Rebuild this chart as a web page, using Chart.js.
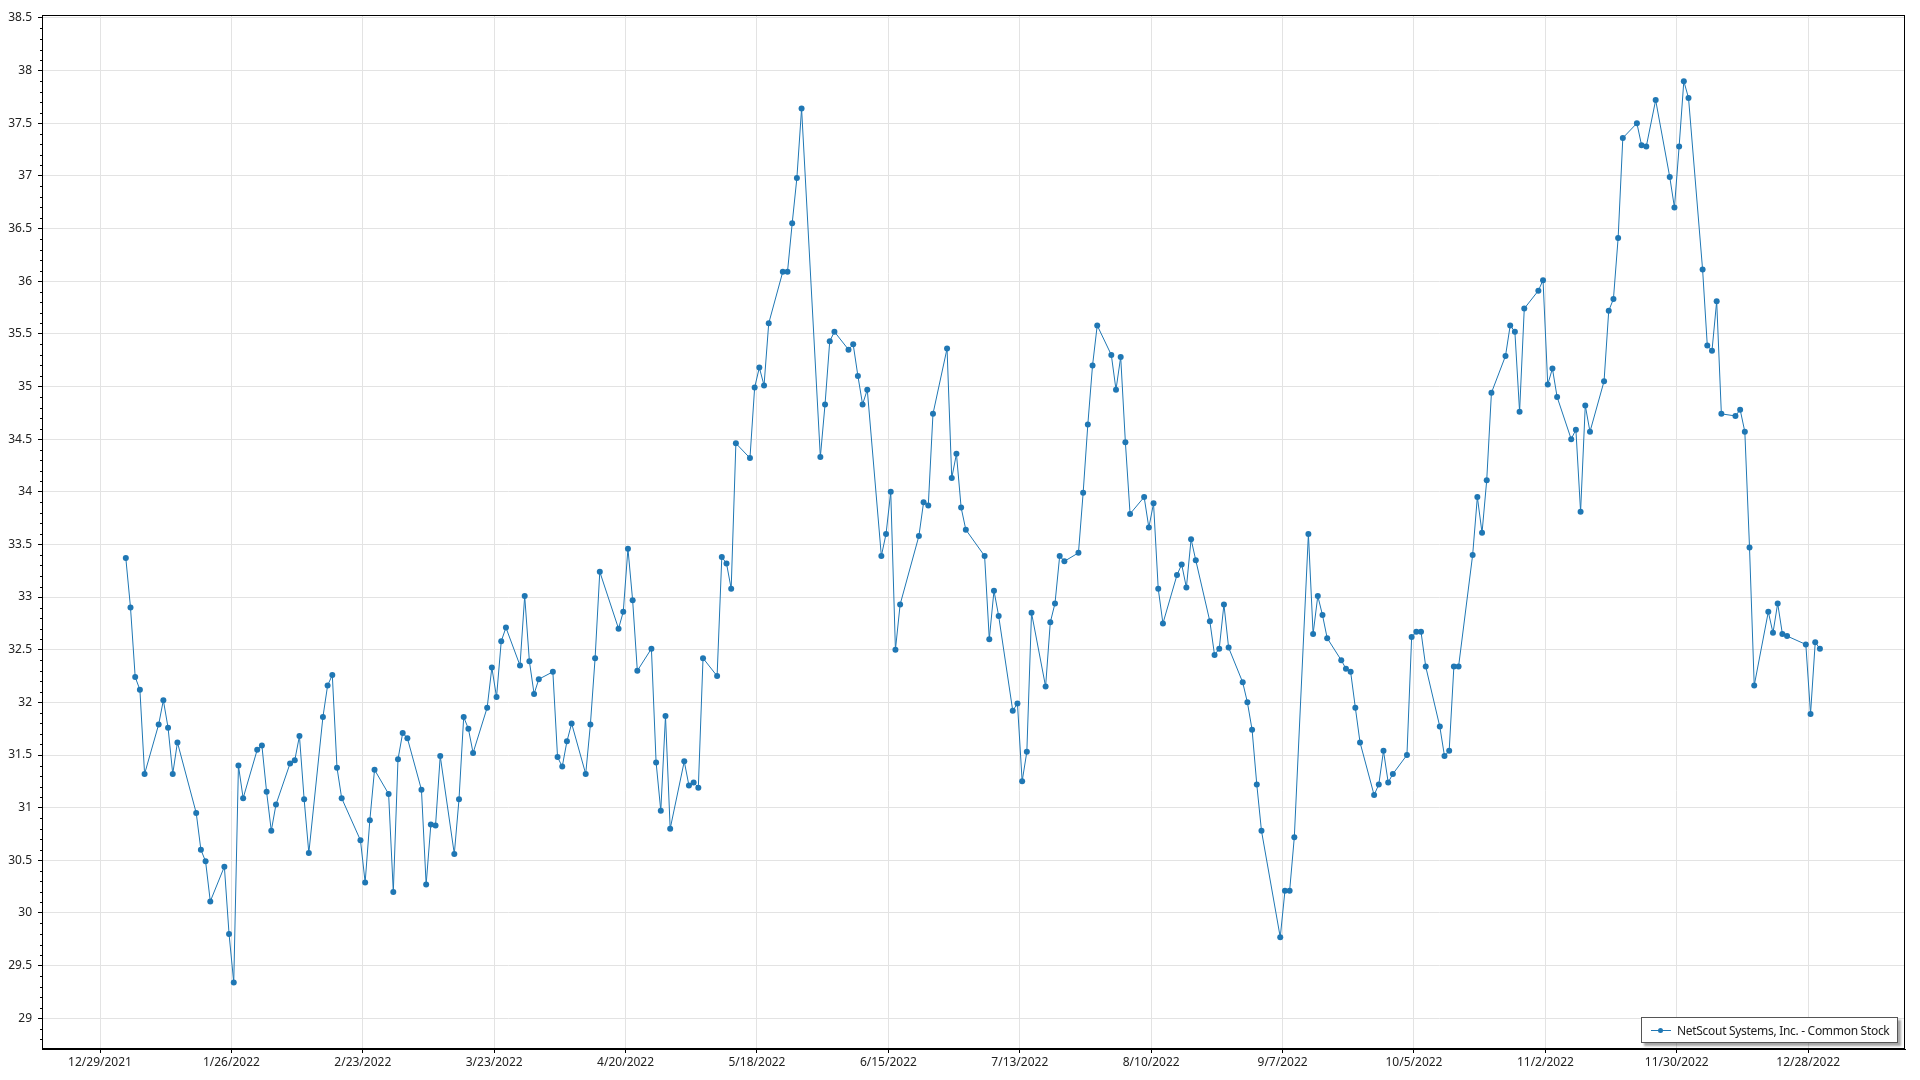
<!DOCTYPE html>
<html>
<head>
<meta charset="utf-8">
<title>NetScout Systems, Inc. - Common Stock</title>
<script src="https://cdn.jsdelivr.net/npm/chart.js@4.4.0/dist/chart.umd.min.js"></script>
<style>
  html, body { margin: 0; padding: 0; background: #fff; }
  #wrap { position: relative; width: 1920px; height: 1080px; }
  #legend {
    position: absolute; left: 1641px; top: 1017px; width: 257px; height: 26px;
    border: 1px solid #555; background: #fff; box-shadow: 3px 3px 2px rgba(0,0,0,0.35);
    font: 12px "Noto Sans", sans-serif; color: #222; letter-spacing: -0.3px;
    display: flex; align-items: center; white-space: nowrap; box-sizing: border-box;
  }
  #legend .swatch { position: relative; width: 20px; height: 1px; background: #1f77b4; margin: 0 6px 0 9px; flex: none; }
  #legend .swatch::after {
    content: ''; position: absolute; left: 7px; top: -2px; width: 5px; height: 5px;
    border-radius: 50%; background: #1f77b4;
  }
</style>
</head>
<body>
<div id="wrap">
  <canvas id="chart" width="1920" height="1080"></canvas>
  <div id="legend"><span class="swatch"></span><span id="legendText"></span></div>
</div>
<script>
const seriesName = 'NetScout Systems, Inc. - Common Stock';

// trading days of 2022 and closing prices
const dates = [
  '2022-01-03','2022-01-04','2022-01-05','2022-01-06','2022-01-07','2022-01-10','2022-01-11','2022-01-12','2022-01-13','2022-01-14',
  '2022-01-18','2022-01-19','2022-01-20','2022-01-21','2022-01-24','2022-01-25','2022-01-26','2022-01-27','2022-01-28','2022-01-31',
  '2022-02-01','2022-02-02','2022-02-03','2022-02-04','2022-02-07','2022-02-08','2022-02-09','2022-02-10','2022-02-11','2022-02-14',
  '2022-02-15','2022-02-16','2022-02-17','2022-02-18','2022-02-22','2022-02-23','2022-02-24','2022-02-25','2022-02-28',
  '2022-03-01','2022-03-02','2022-03-03','2022-03-04','2022-03-07','2022-03-08','2022-03-09','2022-03-10','2022-03-11','2022-03-14',
  '2022-03-15','2022-03-16','2022-03-17','2022-03-18','2022-03-21','2022-03-22','2022-03-23','2022-03-24','2022-03-25','2022-03-28',
  '2022-03-29','2022-03-30','2022-03-31',
  '2022-04-01','2022-04-04','2022-04-05','2022-04-06','2022-04-07','2022-04-08','2022-04-11','2022-04-12','2022-04-13','2022-04-14',
  '2022-04-18','2022-04-19','2022-04-20','2022-04-21','2022-04-22','2022-04-25','2022-04-26','2022-04-27','2022-04-28','2022-04-29',
  '2022-05-02','2022-05-03','2022-05-04','2022-05-05','2022-05-06','2022-05-09','2022-05-10','2022-05-11','2022-05-12','2022-05-13',
  '2022-05-16','2022-05-17','2022-05-18','2022-05-19','2022-05-20','2022-05-23','2022-05-24','2022-05-25','2022-05-26','2022-05-27',
  '2022-05-31',
  '2022-06-01','2022-06-02','2022-06-03','2022-06-06','2022-06-07','2022-06-08','2022-06-09','2022-06-10','2022-06-13','2022-06-14',
  '2022-06-15','2022-06-16','2022-06-17','2022-06-21','2022-06-22','2022-06-23','2022-06-24','2022-06-27','2022-06-28','2022-06-29',
  '2022-06-30',
  '2022-07-01','2022-07-05','2022-07-06','2022-07-07','2022-07-08','2022-07-11','2022-07-12','2022-07-13','2022-07-14','2022-07-15',
  '2022-07-18','2022-07-19','2022-07-20','2022-07-21','2022-07-22','2022-07-25','2022-07-26','2022-07-27','2022-07-28','2022-07-29',
  '2022-08-01','2022-08-02','2022-08-03','2022-08-04','2022-08-05','2022-08-08','2022-08-09','2022-08-10','2022-08-11','2022-08-12',
  '2022-08-15','2022-08-16','2022-08-17','2022-08-18','2022-08-19','2022-08-22','2022-08-23','2022-08-24','2022-08-25','2022-08-26',
  '2022-08-29','2022-08-30','2022-08-31',
  '2022-09-01','2022-09-02','2022-09-06','2022-09-07','2022-09-08','2022-09-09','2022-09-12','2022-09-13','2022-09-14','2022-09-15',
  '2022-09-16','2022-09-19','2022-09-20','2022-09-21','2022-09-22','2022-09-23','2022-09-26','2022-09-27','2022-09-28','2022-09-29',
  '2022-09-30',
  '2022-10-03','2022-10-04','2022-10-05','2022-10-06','2022-10-07','2022-10-10','2022-10-11','2022-10-12','2022-10-13','2022-10-14',
  '2022-10-17','2022-10-18','2022-10-19','2022-10-20','2022-10-21','2022-10-24','2022-10-25','2022-10-26','2022-10-27','2022-10-28',
  '2022-10-31',
  '2022-11-01','2022-11-02','2022-11-03','2022-11-04','2022-11-07','2022-11-08','2022-11-09','2022-11-10','2022-11-11','2022-11-14',
  '2022-11-15','2022-11-16','2022-11-17','2022-11-18','2022-11-21','2022-11-22','2022-11-23','2022-11-25','2022-11-28','2022-11-29',
  '2022-11-30',
  '2022-12-01','2022-12-02','2022-12-05','2022-12-06','2022-12-07','2022-12-08','2022-12-09','2022-12-12','2022-12-13','2022-12-14',
  '2022-12-15','2022-12-16','2022-12-19','2022-12-20','2022-12-21','2022-12-22','2022-12-23','2022-12-27','2022-12-28','2022-12-29',
  '2022-12-30'
];

const closes = [
  33.37, 32.90, 32.24, 32.12, 31.32, 31.79, 32.02, 31.76, 31.32, 31.62,
  30.95, 30.60, 30.49, 30.11, 30.44, 29.80, 29.34, 31.40, 31.09, 31.55,
  31.59, 31.15, 30.78, 31.03, 31.42, 31.45, 31.68, 31.08, 30.57, 31.86,
  32.16, 32.26, 31.38, 31.09, 30.69, 30.29, 30.88, 31.36, 31.13,
  30.20, 31.46, 31.71, 31.66, 31.17, 30.27, 30.84, 30.83, 31.49, 30.56,
  31.08, 31.86, 31.75, 31.52, 31.95, 32.33, 32.05, 32.58, 32.71, 32.35,
  33.01, 32.39, 32.08,
  32.22, 32.29, 31.48, 31.39, 31.63, 31.80, 31.32, 31.79, 32.42, 33.24,
  32.70, 32.86, 33.46, 32.97, 32.30, 32.51, 31.43, 30.97, 31.87, 30.80,
  31.44, 31.21, 31.24, 31.19, 32.42, 32.25, 33.38, 33.32, 33.08, 34.46,
  34.32, 34.99, 35.18, 35.01, 35.60, 36.09, 36.09, 36.55, 36.98, 37.64,
  34.33,
  34.83, 35.43, 35.52, 35.35, 35.40, 35.10, 34.83, 34.97, 33.39, 33.60,
  34.00, 32.50, 32.93, 33.58, 33.90, 33.87, 34.74, 35.36, 34.13, 34.36,
  33.85,
  33.64, 33.39, 32.60, 33.06, 32.82, 31.92, 31.99, 31.25, 31.53, 32.85,
  32.15, 32.76, 32.94, 33.39, 33.34, 33.42, 33.99, 34.64, 35.20, 35.58,
  35.30, 34.97, 35.28, 34.47, 33.79, 33.95, 33.66, 33.89, 33.08, 32.75,
  33.21, 33.31, 33.09, 33.55, 33.35, 32.77, 32.45, 32.51, 32.93, 32.52,
  32.19, 32.00, 31.74,
  31.22, 30.78, 29.77, 30.21, 30.21, 30.72, 33.60, 32.65, 33.01, 32.83,
  32.61, 32.40, 32.32, 32.29, 31.95, 31.62, 31.12, 31.22, 31.54, 31.24,
  31.32,
  31.50, 32.62, 32.67, 32.67, 32.34, 31.77, 31.49, 31.54, 32.34, 32.34,
  33.40, 33.95, 33.61, 34.11, 34.94, 35.29, 35.58, 35.52, 34.76, 35.74,
  35.91,
  36.01, 35.02, 35.17, 34.90, 34.50, 34.59, 33.81, 34.82, 34.57, 35.05,
  35.72, 35.83, 36.41, 37.36, 37.50, 37.29, 37.28, 37.72, 36.99, 36.70,
  37.28,
  37.90, 37.74, 36.11, 35.39, 35.34, 35.81, 34.74, 34.72, 34.78, 34.57,
  33.47, 32.16, 32.86, 32.66, 32.94, 32.65, 32.63, 32.55, 31.89, 32.57,
  32.51
];

// axis: days counted from 12/29/2021, one tick every 4 weeks
const axisStart = Date.UTC(2021, 11, 29);
const dayMs = 86400000;
const xMin = -12.36, xMax = 384.63, xStep = 28;
const yMin = 28.708, yMax = 38.528, yStep = 0.5, yMinorStep = 0.1;

function dayOffset(iso) {
  const p = iso.split('-').map(Number);
  // points sit at midday of their trading day
  return (Date.UTC(p[0], p[1] - 1, p[2]) - axisStart) / dayMs + 0.5;
}

function dayLabel(v) {
  const d = new Date(axisStart + Math.round(v) * dayMs);
  return (d.getUTCMonth() + 1) + '/' + d.getUTCDate() + '/' + d.getUTCFullYear();
}

const points = dates.map((d, i) => ({ x: dayOffset(d), y: closes[i] }));

const lineColor = '#1f77b4';
const gridColor = '#e3e3e3';

Chart.defaults.font.family = '"Noto Sans", sans-serif';
Chart.defaults.font.size = 12;
Chart.defaults.color = '#222';

// black frame round the plot + small minor ticks on the value axis
const frame = {
  id: 'frame',
  afterDraw(chart) {
    const { ctx, chartArea: a, scales } = chart;
    ctx.save();
    ctx.strokeStyle = '#000';
    ctx.lineWidth = 1;
    ctx.strokeRect(Math.round(a.left) + 0.5, Math.round(a.top) + 0.5,
      Math.round(a.right - a.left) - 1, Math.round(a.bottom - a.top) - 1);
    const y = scales.y;
    ctx.beginPath();
    for (let i = Math.ceil(yMin / yMinorStep); i <= Math.floor(yMax / yMinorStep); i++) {
      if (i % 5 === 0) continue;
      const py = Math.round(y.getPixelForValue(i * yMinorStep)) + 0.5;
      ctx.moveTo(a.left - 2, py);
      ctx.lineTo(a.left, py);
    }
    ctx.stroke();
    ctx.restore();
  }
};

const chart = new Chart(document.getElementById('chart').getContext('2d'), {
  type: 'line',
  data: {
    datasets: [{
      label: seriesName,
      data: points,
      borderColor: lineColor,
      backgroundColor: lineColor,
      borderWidth: 1,
      pointRadius: 3,
      pointBorderWidth: 0,
      pointBackgroundColor: lineColor,
      tension: 0
    }]
  },
  options: {
    responsive: false,
    animation: false,
    layout: { padding: { top: 15, right: 15, left: 0, bottom: 0 } },
    plugins: {
      legend: { display: false },
      tooltip: { enabled: false }
    },
    scales: {
      x: {
        type: 'linear',
        min: xMin,
        max: xMax,
        afterFit(scale) { scale.height = 31; },
        grid: { color: gridColor, tickColor: '#000', tickLength: 4 },
        border: { display: true, color: '#000' },
        ticks: {
          stepSize: xStep,
          includeBounds: false,
          autoSkip: false,
          maxRotation: 0,
          padding: 2,
          callback: v => dayLabel(v)
        }
      },
      y: {
        type: 'linear',
        min: yMin,
        max: yMax,
        afterFit(scale) { scale.width = 42; },
        grid: { color: gridColor, tickColor: '#000', tickLength: 4 },
        border: { display: true, color: '#000' },
        ticks: {
          stepSize: yStep,
          includeBounds: false,
          autoSkip: false,
          padding: 6,
          callback: v => String(Math.round(v * 10) / 10)
        }
      }
    }
  },
  plugins: [frame]
});

document.getElementById('legendText').textContent = chart.data.datasets[0].label;
</script>
</body>
</html>
